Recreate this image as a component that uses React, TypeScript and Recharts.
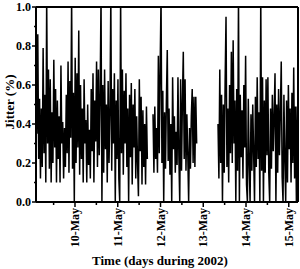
import React from 'react';
import { LineChart, Line, XAxis, YAxis, ReferenceLine } from 'recharts';

// jitter samples, one every 30 min
const seg1a = [
  0.92, 0.35, 0.86, 0.22, 0.53, 0.12, 0.48, 0.18, 0.79, 0.25,
  0.55, 0.10, 1.05, 0.30, 0.68, 0.17, 0.63, 0.10, 0.46, 0.20,
  0.73, 0.28, 0.58, 0.10, 0.52, 0.22, 0.44, 0.10, 0.70, 0.30,
  0.41, 0.12, 0.38, 0.18, 0.55, 0.25, 0.72, 0.15, 0.62, 0.33,
  1.05, 0.17, 0.56, 0.00, 0.74, 0.20, 0.66, 0.28, 0.88, 0.14,
  0.60, 0.22, 0.48, 0.10, 0.63, 0.30, 0.42, 0.10, 0.50, 0.19,
  0.37, 0.12, 0.58, 0.26, 0.66, 0.10, 0.52, 0.31, 0.72, 0.18,
  0.68, 0.24, 0.55, 1.05, 0.00, 0.60, 0.15, 0.68, 0.27, 0.50,
  0.10, 0.62, 0.20, 0.45, 1.05, 0.16, 0.58, 0.30, 0.66, 0.00,
  0.52, 0.22, 0.63, 0.12, 0.00, 1.05, 0.25, 0.68, 0.14, 0.57,
  0.30, 0.66, 0.18, 0.48, 0.00, 0.55, 0.23, 0.61, 0.09, 0.50,
  0.28, 0.58, 0.12, 0.44, 0.20, 0.03, 0.63, 0.26, 0.54, 0.09,
  0.47, 0.18, 0.40, 0.09, 0.49, 0.22,
];
const seg1b = [
  0.45, 0.15, 0.49, 0.22, 0.38, 0.15, 0.75, 0.25, 0.69, 1.05,
  0.20, 0.57, 0.00, 0.46, 0.17, 0.52, 0.78, 0.21, 0.48, 0.14,
  0.40, 0.00, 0.64, 0.27, 0.44, 0.15, 0.36, 0.19, 0.64, 0.24,
  0.00, 0.63, 0.16, 0.52, 0.77, 0.22, 0.63, 0.16, 0.45, 0.25,
  0.00, 0.38, 0.17, 0.44, 0.58, 0.20, 0.54, 0.18, 0.54, 0.30,
];
const seg2 = [
  0.40, 0.12, 0.68, 0.20, 0.55, 0.00, 0.50, 0.15, 0.62, 0.95,
  0.18, 0.48, 0.10, 0.60, 0.25, 0.77, 0.20, 0.83, 0.30, 0.52,
  0.00, 0.58, 0.16, 1.05, 0.00, 0.55, 0.23, 0.47, 0.12, 0.60,
  0.28, 0.75, 0.09, 0.00, 0.53, 0.20, 0.00, 0.45, 0.16, 0.50,
  0.25, 0.00, 0.54, 0.18, 0.64, 0.22, 0.46, 0.00, 1.05, 0.16,
  0.64, 0.00, 0.52, 0.15, 0.63, 0.24, 0.64, 0.15, 0.00, 0.48,
  0.17, 0.55, 0.26, 0.44, 0.66, 0.00, 0.50, 0.15, 0.58, 0.24,
  0.46, 0.72, 0.13, 0.00, 0.55, 0.22, 0.00, 0.52, 0.10, 0.60,
  0.27, 0.48, 0.10, 0.56, 0.20, 0.69, 0.12, 0.49, 0.00, 0.49,
];
// start day (May) of each recording block
const segStarts = [9.088, 11.825, 13.345];
const STEP = 1 / 48;

const X_MIN = 9.088;
const X_MAX = 15.216;
const xTicks = [9.5, 10, 10.5, 11, 11.5, 12, 12.5, 13, 13.5, 14, 14.5, 15];
const yTicks = [0, 0.1, 0.2, 0.3, 0.4, 0.5, 0.6, 0.7, 0.8, 0.9, 1.0];

const data: { t: number; jitter: number | null }[] = [];
[seg1a, seg1b, seg2].forEach((seg, s) => {
  seg.forEach((v, i) => data.push({ t: segStarts[s] + i * STEP, jitter: v }));
  data.push({ t: segStarts[s] + seg.length * STEP, jitter: null });
});

const FONT = '"Liberation Serif", "Times New Roman", serif';

const XTick = (props: any) => {
  const { x, y, payload } = props;
  const v = payload.value;
  const major = Number.isInteger(v);
  return (
    <g>
      <line x1={x} y1={y} x2={x} y2={y + (major ? 5 : 3)} stroke="#000" strokeWidth={1.5} />
      {major && (
        <text
          x={x}
          y={y + 6}
          transform={`rotate(-90, ${x}, ${y + 6})`}
          textAnchor="end"
          dy="0.35em"
          fontFamily={FONT}
          fontWeight="bold"
          fontSize={12}
          fill="#000"
        >
          {`${v}-May`}
        </text>
      )}
    </g>
  );
};

const YTick = (props: any) => {
  const { x, y, payload } = props;
  const v = payload.value;
  const major = Math.round(v * 10) % 2 === 0;
  return (
    <g>
      <line x1={x} y1={y} x2={x - (major ? 4 : 2)} y2={y} stroke="#000" strokeWidth={1.5} />
      {major && (
        <text x={x - 5} y={y} dy="0.35em" textAnchor="end" fontFamily={FONT} fontWeight="bold" fontSize={12} fill="#000">
          {v.toFixed(1)}
        </text>
      )}
    </g>
  );
};

const App = () => {
  return (
    <div style={{ position: 'absolute', left: 0, top: 0, background: '#fff' }}>
      <LineChart width={300} height={269} data={data} margin={{ top: 7, right: 2, left: 0, bottom: 0 }}>
        <XAxis
          dataKey="t"
          type="number"
          domain={[X_MIN, X_MAX]}
          allowDataOverflow
          ticks={xTicks}
          interval={0}
          tick={<XTick />}
          tickLine={false}
          tickSize={0}
          tickMargin={0}
          height={67}
          axisLine={{ stroke: '#000', strokeWidth: 2 }}
          label={() => (
            <text x={160} y={265} textAnchor="middle" fontFamily={FONT} fontWeight="bold" fontSize={13} fill="#000">
              Time (days during 2002)
            </text>
          )}
        />
        <YAxis
          domain={[0, 1]}
          allowDataOverflow
          ticks={yTicks}
          interval={0}
          tick={<YTick />}
          tickLine={false}
          tickSize={0}
          tickMargin={0}
          width={36}
          axisLine={{ stroke: '#000', strokeWidth: 2 }}
          label={() => (
            <text
              x={14}
              y={102}
              transform="rotate(-90, 14, 102)"
              textAnchor="middle"
              fontFamily={FONT}
              fontWeight="bold"
              fontSize={13}
              fill="#000"
            >
              Jitter (%)
            </text>
          )}
        />
        <ReferenceLine y={1} stroke="#000" strokeWidth={2} />
        <ReferenceLine x={X_MAX} stroke="#000" strokeWidth={2} />
        <Line
          type="linear"
          dataKey="jitter"
          stroke="#000"
          strokeWidth={1.5}
          dot={false}
          connectNulls={false}
          isAnimationActive={false}
        />
      </LineChart>
    </div>
  );
};

export default App;
